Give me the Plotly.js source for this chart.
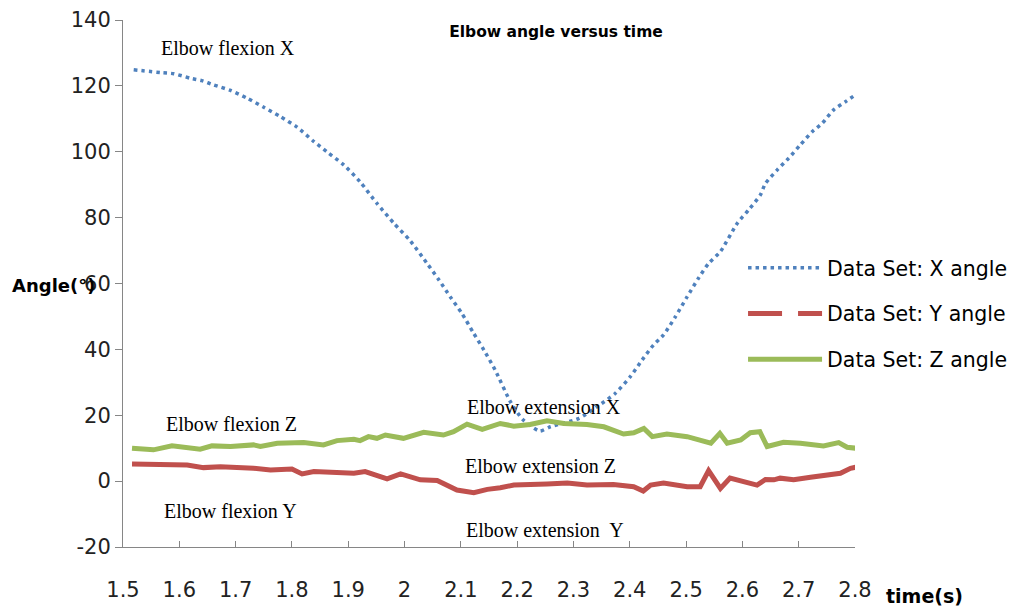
<!DOCTYPE html>
<html>
<head>
<meta charset="utf-8">
<script src="https://cdn.plot.ly/plotly-3.0.1.min.js"></script>
<style>html,body{margin:0;padding:0;background:#fff;}#chart{width:1011px;height:608px;}</style>
</head>
<body>
<div id="chart"></div>
<script>
// ---- Data ----
const xAngleTime = [1.519,1.569,1.590,1.620,1.640,1.661,1.691,1.720,1.750,1.779,1.809,1.839,1.862,1.892,1.921,1.951,1.981,2.010,2.040,2.061,2.081,2.102,2.122,2.141,2.161,2.188,2.210,2.240,2.259,2.309,2.342,2.374,2.401,2.422,2.442,2.460,2.481,2.502,2.522,2.540,2.561,2.591,2.611,2.632,2.641,2.662,2.682,2.703,2.724,2.742,2.762,2.783,2.801];
const xAngle = [124.9,124.0,123.7,122.3,121.6,120.3,118.6,116.3,113.5,110.7,107.5,103.1,100.0,96.0,90.9,84.3,78.3,73.0,66.1,61.1,56.0,50.9,45.1,39.8,33.7,24.1,18.7,15.2,16.5,19.0,22.6,26.6,31.7,36.8,41.3,44.4,49.9,56.0,61.6,66.1,69.7,78.3,82.3,86.9,90.4,94.5,98.0,102.1,106.1,108.7,112.7,115.2,117.3];

const yAngleTime = [1.516,1.566,1.614,1.643,1.673,1.732,1.762,1.800,1.818,1.839,1.910,1.930,1.969,1.993,2.028,2.058,2.093,2.123,2.147,2.170,2.194,2.253,2.289,2.324,2.371,2.407,2.424,2.437,2.460,2.502,2.525,2.540,2.552,2.561,2.578,2.608,2.626,2.641,2.656,2.667,2.691,2.721,2.750,2.774,2.792,2.801];
const yAngle = [5.2,5.2,4.9,4.1,4.4,3.9,3.4,3.7,2.2,2.9,2.4,2.9,0.7,2.2,0.4,0.2,-2.7,-3.5,-2.5,-2.0,-1.2,-0.9,-0.6,-1.2,-1.0,-1.7,-3.0,-1.2,-0.6,-1.7,-1.7,3.2,0.4,-2.2,0.9,-0.2,-1.2,0.5,0.4,0.9,0.4,1.2,1.9,2.4,3.9,4.2];

const zAngleTime = [1.516,1.554,1.587,1.614,1.637,1.658,1.691,1.732,1.744,1.774,1.821,1.856,1.880,1.910,1.921,1.936,1.951,1.966,1.998,2.034,2.069,2.087,2.111,2.138,2.170,2.194,2.223,2.253,2.283,2.324,2.354,2.389,2.407,2.425,2.440,2.466,2.502,2.544,2.560,2.573,2.597,2.614,2.631,2.644,2.656,2.673,2.703,2.727,2.744,2.771,2.786,2.801];
const zAngle = [10.0,9.5,10.7,10.0,9.7,10.7,10.5,11.0,10.5,11.5,11.7,11.0,12.3,12.7,12.3,13.5,13.0,14.0,13.0,14.8,14.0,15.0,17.3,15.7,17.5,16.7,17.2,18.3,17.5,17.2,16.5,14.3,14.7,16.0,13.5,14.3,13.5,11.5,14.5,11.5,12.5,14.7,15.0,10.5,11.0,11.8,11.5,11.2,10.7,11.7,10.3,10.0];

const seriesNames = ["Data Set: X angle","Data Set: Y angle","Data Set: Z angle"];
const xTickVals = [1.5,1.6,1.7,1.8,1.9,2,2.1,2.2,2.3,2.4,2.5,2.6,2.7,2.8];
const xTickText = ["1.5","1.6","1.7","1.8","1.9","2","2.1","2.2","2.3","2.4","2.5","2.6","2.7","2.8"];
const yTickVals = [-20,0,20,40,60,80,100,120,140];
const yTickText = ["-20","0","20","40","60","80","100","120","140"];

const labelText = ["Elbow flexion X","Elbow flexion Z","Elbow flexion Y","Elbow extension X","Elbow extension Z","Elbow extension  Y"];
const labelX = [1.687,1.692,1.691,2.247,2.242,2.250];
const labelY = [131.6,17.4,-9.1,22.5,4.6,-14.9];

const BLUE = "#4F81BD", RED = "#C0504D", GREEN = "#9BBB59";

const traces = [
  {x: xAngleTime, y: xAngle, name: seriesNames[0], mode: "lines", legendgroup: "a",
   line: {color: BLUE, width: 3.5, dash: "3.5px,4px", shape: "spline", smoothing: 0.6}},
  {x: yAngleTime, y: yAngle, name: seriesNames[1], mode: "lines", showlegend: false, legendgroup: "b",
   line: {color: RED, width: 5}},
  {x: [null], y: [null], name: seriesNames[1], mode: "lines", legendgroup: "b",
   line: {color: RED, width: 5, dash: "34px,16px"}},
  {x: zAngleTime, y: zAngle, name: seriesNames[2], mode: "lines", legendgroup: "c",
   line: {color: GREEN, width: 5}}
];

const annotations = labelText.map((t, i) => ({
  x: labelX[i], y: labelY[i], xref: "x", yref: "y", text: t, showarrow: false,
  font: {family: "Liberation Serif", size: 20, color: "#000"}, xanchor: "center", yanchor: "middle"
}));
annotations.push({
  text: "<b>Angle(°)</b>", showarrow: false, xref: "paper", yref: "paper",
  x: (10 - 122.7) / 732.3, y: (547 - 285) / 527, xanchor: "left", yanchor: "middle",
  font: {family: "DejaVu Sans", size: 18, color: "#000"}
});
annotations.push({
  text: "<b>time(s)</b>", showarrow: false, xref: "paper", yref: "paper",
  x: (884 - 122.7) / 732.3, y: (547 - 596) / 527, xanchor: "left", yanchor: "middle",
  font: {family: "DejaVu Sans", size: 19, color: "#000"}
});

const layout = {
  width: 1011, height: 608,
  margin: {l: 122.7, r: 1011 - 855, t: 20, b: 61, autoexpand: false},
  paper_bgcolor: "#fff", plot_bgcolor: "#fff",
  title: {text: "<b>Elbow angle versus time</b>", x: 556 / 1011, xanchor: "center", xref: "container",
          y: 1 - 32 / 608, yanchor: "middle", yref: "container",
          font: {family: "DejaVu Sans", size: 15.5, color: "#000"}},
  xaxis: {range: [1.5, 2.8], tickvals: xTickVals, ticktext: xTickText, showgrid: false, zeroline: false,
          showline: true, linecolor: "#868686", linewidth: 1, ticks: "inside", ticklen: 6, tickcolor: "#868686",
          ticklabelstandoff: 24, tickfont: {family: "DejaVu Sans", size: 21, color: "#222"}},
  yaxis: {range: [-20, 140], tickvals: yTickVals, ticktext: yTickText, showgrid: false, zeroline: false,
          showline: true, linecolor: "#868686", linewidth: 1, ticks: "outside", ticklen: 7, tickcolor: "#868686",
          tickfont: {family: "DejaVu Sans", size: 21, color: "#222"}},
  legend: {x: (743 - 122.7) / 732.3, y: (547 - 248) / 527, xanchor: "left", yanchor: "top",
           bgcolor: "rgba(0,0,0,0)", font: {family: "DejaVu Sans", size: 20.5, color: "#000"},
           itemwidth: 74, traceorder: "grouped", tracegroupgap: 16},
  annotations: annotations,
  showlegend: true
};

Plotly.newPlot("chart", traces, layout, {displayModeBar: false, staticPlot: true});
</script>
</body>
</html>
